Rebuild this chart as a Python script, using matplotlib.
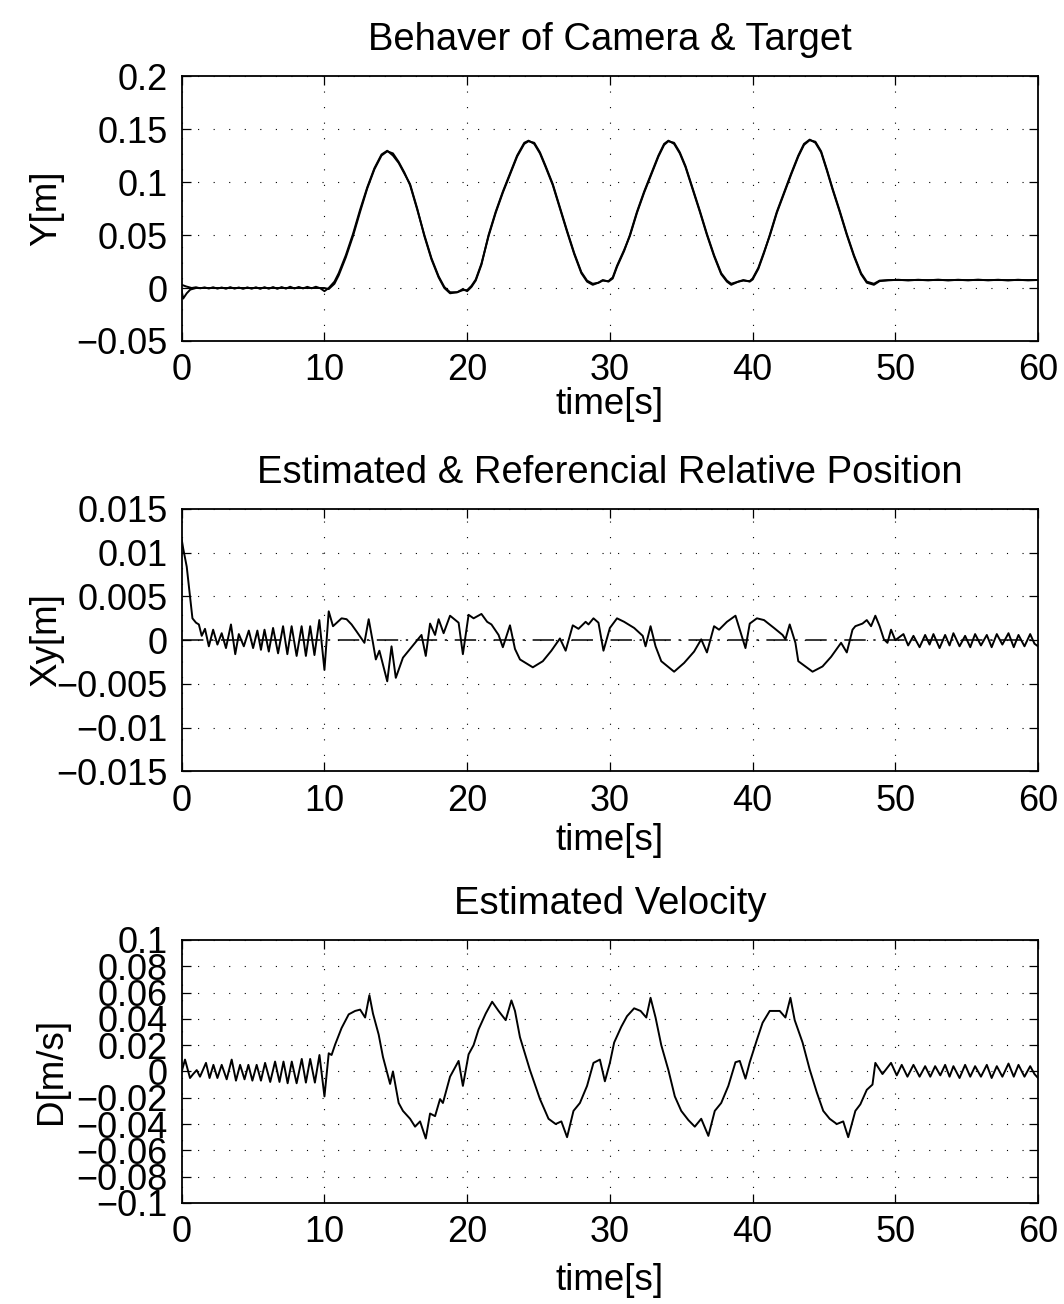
import matplotlib
matplotlib.use("Agg")
import matplotlib.pyplot as plt

plt.rcParams['font.family'] = ['Liberation Sans', 'DejaVu Sans']
FS_TICK = 26
FS_LABEL = 26.5
FS_TITLE = 27.5

# ---------------- data ----------------
x_ticks = [0, 10, 20, 30, 40, 50, 60]
x_ticklabels = ['0', '10', '20', '30', '40', '50', '60']

# Panel 1: Y[m] (camera and target)
y1_ticks = [-0.05, 0, 0.05, 0.1, 0.15, 0.2]
y1_ticklabels = ['\u22120.05', '0', '0.05', '0.1', '0.15', '0.2']

t_cam = [0, 0.3, 0.7, 1.0, 1.3, 1.6, 1.9, 2.2, 2.5, 2.8,
         3.1, 3.4, 3.7, 4.0, 4.3, 4.6, 4.9, 5.2, 5.5, 5.8,
         6.1, 6.4, 6.7, 7.0, 7.3, 7.6, 7.9, 8.2, 8.5, 8.8,
         9.1, 9.4, 9.7, 10.0,
         10.3, 10.7, 11.0, 11.5, 12.0, 12.5, 13.0, 13.5, 14.0, 14.4,
         14.8, 15.2, 15.6, 16.0, 16.5, 17.0, 17.5, 18.0, 18.4, 18.8,
         19.3, 19.7, 20.0,
         20.3, 20.6, 21.0, 21.5, 22.0, 22.5, 23.0, 23.5, 24.0, 24.3,
         24.7, 25.1, 25.5, 26.0, 26.5, 27.0, 27.5, 28.0, 28.4, 28.8,
         29.2, 29.5, 29.9,
         30.2, 30.5, 31.0, 31.4, 31.9, 32.4, 32.9, 33.4, 33.8, 34.1,
         34.5, 34.9, 35.3, 35.8, 36.3, 36.8, 37.3, 37.8, 38.2, 38.5,
         39.0, 39.35, 39.8,
         40.0, 40.4, 40.8, 41.2, 41.7, 42.2, 42.7, 43.2, 43.6, 44.0,
         44.4, 44.8, 45.2, 45.6, 46.1, 46.6, 47.1, 47.6, 48.0, 48.5,
         48.9,
         49.5, 50.2, 50.9, 51.6, 52.3, 53.0, 53.7, 54.4, 55.1, 55.8,
         56.5, 57.2, 57.9, 58.6, 59.3, 60.0]
y_cam = [0.003, 0.0015, 0.0, 0.0007, -0.0003, 0.0006, -0.0005, 0.0007, -0.0006, 0.0005,
         -0.0007, 0.0008, -0.0006, 0.0005, -0.0008, 0.0006, -0.0007, 0.0007, -0.0008, 0.0008,
         -0.0007, 0.0009, -0.0008, 0.0009, -0.0006, 0.0012, -0.0005, 0.0010, -0.0004, 0.0011,
         -0.0003, 0.0012, -0.0002, -0.003,
         0.000, 0.006, 0.014, 0.031, 0.051, 0.074, 0.095, 0.113, 0.126, 0.1295,
         0.125, 0.118, 0.108, 0.098, 0.075, 0.049, 0.027, 0.010, 0.000, -0.005,
         -0.004, -0.001, -0.003,
         0.001, 0.007, 0.022, 0.050, 0.072, 0.091, 0.108, 0.125, 0.137, 0.139,
         0.136, 0.127, 0.114, 0.097, 0.075, 0.053, 0.032, 0.014, 0.006, 0.003,
         0.005, 0.0075, 0.006,
         0.009, 0.020, 0.035, 0.050, 0.072, 0.091, 0.108, 0.125, 0.136, 0.139,
         0.136, 0.127, 0.114, 0.093, 0.072, 0.050, 0.030, 0.013, 0.006, 0.003,
         0.006, 0.0075, 0.006,
         0.008, 0.018, 0.033, 0.050, 0.072, 0.090, 0.108, 0.125, 0.136, 0.140,
         0.137, 0.128, 0.111, 0.093, 0.072, 0.050, 0.030, 0.013, 0.005, 0.003,
         0.0065,
         0.0072, 0.0078, 0.0071, 0.0078, 0.0072, 0.0079, 0.0071, 0.0078, 0.0072, 0.0079,
         0.0072, 0.0078, 0.0071, 0.0078, 0.0072, 0.0076]

t_tgt = [0, 0.1, 0.35, 0.6, 1.0, 10.0,
         10.3, 10.7, 11.0, 11.5, 12.0, 12.5, 13.0, 13.5, 14.0, 14.4,
         14.8, 15.2, 15.6, 16.0, 16.5, 17.0, 17.5, 18.0, 18.4, 18.8,
         19.3, 19.7, 20.0,
         20.3, 20.6, 21.0, 21.5, 22.0, 22.5, 23.0, 23.5, 24.0, 24.3,
         24.7, 25.1, 25.5, 26.0, 26.5, 27.0, 27.5, 28.0, 28.4, 28.8,
         29.2, 29.5, 29.9,
         30.2, 30.5, 31.0, 31.4, 31.9, 32.4, 32.9, 33.4, 33.8, 34.1,
         34.5, 34.9, 35.3, 35.8, 36.3, 36.8, 37.3, 37.8, 38.2, 38.5,
         39.0, 39.35, 39.8,
         40.0, 40.4, 40.8, 41.2, 41.7, 42.2, 42.7, 43.2, 43.6, 44.0,
         44.4, 44.8, 45.2, 45.6, 46.1, 46.6, 47.1, 47.6, 48.0, 48.5,
         48.9, 49.5, 60.0]
y_tgt = [-0.003, -0.010, -0.005, -0.0015, 0.0, 0.0,
         -0.001, 0.004, 0.012, 0.029, 0.049, 0.072, 0.094, 0.112, 0.125, 0.129,
         0.127, 0.119, 0.109, 0.097, 0.074, 0.050, 0.028, 0.011, 0.001, -0.004,
         -0.004, -0.002, -0.002,
         0.002, 0.008, 0.023, 0.049, 0.071, 0.090, 0.107, 0.124, 0.136, 0.1385,
         0.137, 0.128, 0.115, 0.098, 0.076, 0.054, 0.033, 0.015, 0.007, 0.004,
         0.005, 0.007, 0.0065,
         0.010, 0.021, 0.036, 0.049, 0.071, 0.090, 0.107, 0.124, 0.135, 0.1385,
         0.137, 0.128, 0.115, 0.094, 0.073, 0.051, 0.031, 0.014, 0.007, 0.004,
         0.006, 0.007, 0.0065,
         0.009, 0.019, 0.034, 0.049, 0.071, 0.089, 0.107, 0.124, 0.135, 0.1395,
         0.138, 0.129, 0.112, 0.094, 0.073, 0.051, 0.031, 0.014, 0.006, 0.004,
         0.007, 0.0075, 0.0075]

# Panel 2: Xy[m] estimated & referencial relative position
y2_ticks = [-0.015, -0.01, -0.005, 0, 0.005, 0.01, 0.015]
y2_ticklabels = ['\u22120.015', '\u22120.01', '\u22120.005', '0', '0.005', '0.01', '0.015']

t_est = [0, 0.1, 0.35, 0.58, 0.75, 1.0, 1.2, 1.4,
         1.63, 1.9, 2.2, 2.5, 2.8, 3.1, 3.45, 3.75, 4.0, 4.35,
         4.7, 5.0, 5.3, 5.55, 5.8, 6.1, 6.4, 6.75, 7.1, 7.4,
         7.7, 8.05, 8.4, 8.7, 9.0, 9.3, 9.64, 10.0,
         10.3, 10.6, 11.2, 11.55, 11.9, 12.25, 12.8, 13.1, 13.4, 13.6,
         13.85, 14.4, 14.7, 15.0, 15.5, 16.0, 16.5, 16.8, 17.1, 17.4,
         17.75, 18.0, 18.35, 18.8, 19.4, 19.7, 20.1, 20.45, 21.0, 21.4,
         21.7, 22.2, 22.5, 23.0, 23.35, 23.7, 24.6, 25.3, 25.9, 26.5,
         26.9, 27.4, 27.8, 28.3, 28.5, 28.85, 29.2, 29.55, 30.0, 30.5,
         31.0, 31.7, 32.3, 32.5, 32.85, 33.2, 33.6, 34.5, 35.2, 35.9,
         36.4, 36.8, 37.3, 37.65, 38.2, 38.8, 39.1, 39.5, 39.8, 40.3,
         40.8, 41.5, 42.1, 42.3, 42.6, 43.0, 43.2, 44.2, 44.9, 45.5,
         46.2, 46.6, 47.0, 47.2, 47.7, 48.0, 48.3, 48.6, 48.9, 49.2,
         49.45, 49.7, 50.0,
         50.57, 50.9, 51.27, 51.7, 52.09, 52.4, 52.67, 53.1, 53.49, 53.8,
         54.07, 54.5, 54.89, 55.25, 55.59, 56.0, 56.41, 56.75, 57.11, 57.5,
         57.93, 58.3, 58.63, 59.05, 59.45, 59.75, 60.0]
xy_est = [0.0115, 0.0105, 0.0084, 0.005, 0.0025, 0.002, 0.0018, 0.0005,
          0.0013, -0.0007, 0.0012, -0.0005, 0.0008, -0.0009, 0.0018, -0.0016, 0.0007, -0.0007,
          0.0011, -0.0009, 0.0011, -0.0011, 0.0012, -0.0013, 0.0014, -0.0015, 0.0016, -0.0016,
          0.0016, -0.0018, 0.0016, -0.0018, 0.0016, -0.0017, 0.0023, -0.0034,
          0.0033, 0.0016, 0.0025, 0.0024, 0.0018, 0.0010, -0.0003, 0.0024, -0.0003, -0.0022,
          -0.0012, -0.0047, -0.0007, -0.0043, -0.0020, -0.0010, 0.0000, 0.0006, -0.0018, 0.0019,
          0.0006, 0.0024, 0.0008, 0.0028, 0.0020, -0.0016, 0.0029, 0.0025, 0.0030, 0.0021,
          0.0018, 0.0006, -0.0008, 0.0017, -0.0010, -0.0022, -0.0031, -0.0024, -0.0012, 0.0002,
          -0.0012, 0.0017, 0.0013, 0.0021, 0.0018, 0.0025, 0.0020, -0.0012, 0.0014, 0.0025,
          0.0021, 0.0014, 0.0005, -0.0007, 0.0016, -0.0007, -0.0024, -0.0036, -0.0026, -0.0013,
          0.0001, -0.0014, 0.0016, 0.0012, 0.0021, 0.0028, 0.0012, -0.0009, 0.0019, 0.0025,
          0.0023, 0.0014, 0.0006, 0.0001, 0.0018, -0.0003, -0.0024, -0.0036, -0.0030, -0.0019,
          -0.0003, -0.0014, 0.0012, 0.0016, 0.0019, 0.0023, 0.0016, 0.0028, 0.0016, 0.0001,
          -0.0003, 0.0012, 0.0000,
          0.0007, -0.0006, 0.0005, -0.0008, 0.0006, -0.0005, 0.0007, -0.0009, 0.0006, -0.0006,
          0.0008, -0.0007, 0.0005, -0.0008, 0.0007, -0.0006, 0.0006, -0.0008, 0.0007, -0.0005,
          0.0008, -0.0008, 0.0006, -0.0007, 0.0007, -0.0004, -0.0007]

t_ref = [0, 60]
xy_ref = [0, 0]

# Panel 3: D[m/s] estimated velocity
y3_ticks = [-0.1, -0.08, -0.06, -0.04, -0.02, 0, 0.02, 0.04, 0.06, 0.08, 0.1]
y3_ticklabels = ['\u22120.1', '\u22120.08', '\u22120.06', '\u22120.04', '\u22120.02', '0',
                 '0.02', '0.04', '0.06', '0.08', '0.1']

t_vel = [0, 0.23, 0.58, 0.8, 1.05, 1.28, 1.70, 1.95,
         2.22, 2.5, 2.80, 3.15, 3.50, 3.8, 4.09, 4.4, 4.67, 4.95,
         5.25, 5.55, 5.84, 6.2, 6.54, 6.85, 7.13, 7.42, 7.71, 8.05,
         8.41, 8.7, 9.0, 9.33, 9.65, 10.0,
         10.3, 10.5, 10.75, 11.2, 11.7, 12.15, 12.5, 12.85, 13.15, 13.4,
         13.8, 14.1, 14.6, 14.8, 15.2, 15.5, 16.0, 16.35, 16.7, 17.1,
         17.4, 17.75, 18.1, 18.3, 18.8, 19.4, 19.7, 20.1, 20.45, 20.8,
         21.3, 21.75, 22.2, 22.7, 23.1, 23.35, 23.7, 24.4, 25.1, 25.7,
         26.2, 26.6, 27.0, 27.45, 27.9, 28.4, 28.85, 29.3, 29.65, 30.0,
         30.3, 30.8, 31.2, 31.7, 32.15, 32.55, 32.85, 33.2, 33.6, 34.1,
         34.55, 35.0, 35.5, 35.95, 36.4, 36.9, 37.35, 37.8, 38.3, 38.8,
         39.1, 39.5, 39.8, 40.3, 40.7, 41.2, 41.9, 42.3, 42.65, 42.95,
         43.5, 44.0, 44.5, 44.95, 45.4, 45.9, 46.35, 46.7, 47.2, 47.55,
         48.0, 48.4, 48.6, 49.1, 49.7, 50.1,
         50.45, 50.85, 51.27, 51.7, 52.09, 52.45, 52.79, 53.15, 53.49, 53.8,
         54.07, 54.5, 54.89, 55.25, 55.59, 56.0, 56.41, 56.75, 57.11, 57.5,
         57.93, 58.3, 58.63, 59.05, 59.45, 59.75, 60.0]
d_vel = [0.0, 0.009, -0.005, -0.002, 0.001, -0.004, 0.0065, -0.005,
         0.005, -0.005, 0.005, -0.006, 0.009, -0.007, 0.005, -0.006, 0.005, -0.007,
         0.005, -0.007, 0.0065, -0.008, 0.0075, -0.008, 0.0075, -0.009, 0.0075, -0.009,
         0.0095, -0.0085, 0.0095, -0.0085, 0.0125, -0.019,
         0.0138, 0.0125, 0.0205, 0.033, 0.0434, 0.046, 0.047, 0.041, 0.058, 0.044,
         0.028, 0.011, -0.0095, 0.0, -0.024, -0.030, -0.036, -0.042, -0.038, -0.051,
         -0.032, -0.034, -0.021, -0.024, -0.004, 0.008, -0.011, 0.013, 0.020, 0.032,
         0.044, 0.053, 0.046, 0.039, 0.054, 0.046, 0.026, 0.001, -0.021, -0.036,
         -0.040, -0.038, -0.050, -0.030, -0.024, -0.011, 0.0065, 0.009, -0.0075, 0.0065,
         0.022, 0.034, 0.042, 0.048, 0.046, 0.041, 0.056, 0.041, 0.020, 0.001,
         -0.019, -0.030, -0.037, -0.042, -0.036, -0.049, -0.030, -0.024, -0.011, 0.007,
         0.008, -0.0055, 0.007, 0.024, 0.037, 0.046, 0.046, 0.041, 0.056, 0.039,
         0.022, 0.0015, -0.016, -0.030, -0.036, -0.040, -0.038, -0.050, -0.030, -0.025,
         -0.014, -0.010, 0.0065, -0.002, 0.0065, -0.003,
         0.005, -0.004, 0.005, -0.004, 0.004, -0.004, 0.004, -0.003, 0.005, -0.004,
         0.004, -0.005, 0.005, -0.004, 0.004, -0.004, 0.005, -0.005, 0.004, -0.004,
         0.006, -0.004, 0.005, -0.004, 0.004, -0.002, -0.005]

titles = ['Behaver of Camera & Target',
          'Estimated & Referencial Relative Position',
          'Estimated Velocity']
ylabels = ['Y[m]', 'Xy[m]', 'D[m/s]']
xlabel = 'time[s]'


def pair(t, v):
    n = min(len(t), len(v))
    return t[:n], v[:n]


# ---------------- figure ----------------
fig = plt.figure(figsize=(10.64, 13.04), dpi=100)
L, W = 0.1708, 0.8048
rects = [[L, 0.7385, W, 0.2032],
         [L, 0.4084, W, 0.2013],
         [L, 0.0775, W, 0.2017]]
axes = [fig.add_axes(r) for r in rects]

line_kw = dict(color='black', linewidth=1.4, solid_joinstyle='round')

ax = axes[0]
ax.plot(*pair(t_tgt, y_tgt), **line_kw)
ax.plot(*pair(t_cam, y_cam), **line_kw)
ax.set_ylim(-0.05, 0.2)
ax.set_yticks(y1_ticks)
ax.set_yticklabels(y1_ticklabels)

ax = axes[1]
ax.plot(t_ref, xy_ref, color='black', linewidth=1.1, linestyle=(0, (14, 5, 1.5, 5)))
ax.plot(*pair(t_est, xy_est), **line_kw)
ax.set_ylim(-0.015, 0.015)
ax.set_yticks(y2_ticks)
ax.set_yticklabels(y2_ticklabels)

ax = axes[2]
ax.plot(*pair(t_vel, d_vel), **line_kw)
ax.set_ylim(-0.1, 0.1)
ax.set_yticks(y3_ticks)
ax.set_yticklabels(y3_ticklabels)

ylabel_x = [-0.158, -0.158, -0.152]
xlabel_pad = [-1, 3, 9]
for i, ax in enumerate(axes):
    ax.set_xlim(0, 60)
    ax.set_xticks(x_ticks)
    ax.set_xticklabels(x_ticklabels)
    ax.grid(True, color='black', linestyle=(0, (1, 13)), linewidth=0.8)
    ax.tick_params(axis='both', direction='in', length=6.5, width=0.9,
                   top=True, right=True, labelsize=FS_TICK, colors='black')
    ax.tick_params(axis='x', pad=9)
    ax.tick_params(axis='y', pad=10)
    for s in ax.spines.values():
        s.set_linewidth(1.3)
        s.set_color('black')
    ax.set_title(titles[i], fontsize=FS_TITLE, pad=19)
    ax.set_xlabel(xlabel, fontsize=FS_LABEL, labelpad=xlabel_pad[i])
    ax.set_ylabel(ylabels[i], fontsize=FS_LABEL, va='center')
    ax.yaxis.set_label_coords(ylabel_x[i], 0.5)

fig.savefig('out.png', dpi=100, facecolor='white')
